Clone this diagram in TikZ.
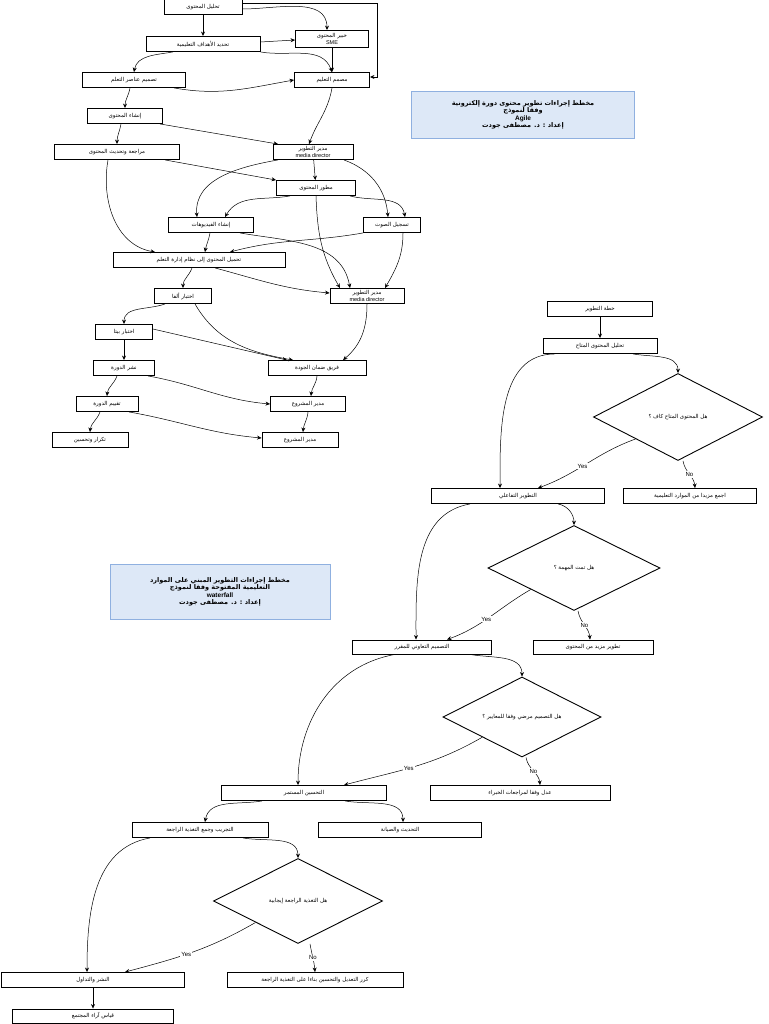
\documentclass[tikz,border=0pt]{standalone}
\usepackage{fontspec}
\setmainfont{Liberation Sans}
\newfontfamily\arfont[Script=Arabic]{DejaVu Sans}
\usetikzlibrary{shapes.geometric,arrows.meta}
\TeXXeTstate=1
\newcommand\ar[1]{{\arfont\beginR #1\endR}}
\definecolor{ttlfill}{HTML}{DDE8F7}
\definecolor{ttldraw}{HTML}{8FB0E0}
\tikzset{
  box/.style={draw, line width=0.9pt, inner sep=1pt, minimum height=15pt, align=center,
    font=\fontsize{5.5}{6.5}\selectfont},
  dia/.style={draw, diamond, line width=0.9pt, inner sep=0pt, aspect=2,
    font=\fontsize{5.5}{6.5}\selectfont},
  arr/.style={-{Stealth[length=4.5pt,width=4pt]}, line width=0.5pt},
  lbl/.style={fill=white, inner sep=1pt, font=\fontsize{6}{7}\selectfont},
  ttl/.style={draw=ttldraw, fill=ttlfill, align=center, inner sep=2pt,
    font=\fontsize{6.5}{7.5}\selectfont\bfseries}
}
\begin{document}
\begin{tikzpicture}[x=1pt,y=-1pt]
    \useasboundingbox (0,0) rectangle (768,1024);

    % Agile chart
    \node[box, minimum width=78] (a1) at (203,7) {\ar{تحليل المحتوى}};
    \node[box, minimum width=73, minimum height=17] (a2) at (332,39) {\ar{خبير المحتوى}\\SME};
    \node[box, minimum width=114] (a3) at (203,44) {\ar{تحديد الأهداف التعليمية}};
    \node[box, minimum width=103] (a4) at (134,80) {\ar{تصميم عناصر التعلم}};
    \node[box, minimum width=75] (a5) at (332,80) {\ar{مصمم التعليم}};
    \node[box, minimum width=75] (a6) at (125,116) {\ar{إنشاء المحتوى}};
    \node[box, minimum width=125] (a7) at (117,152) {\ar{مراجعة وتحديث المحتوى}};
    \node[box, minimum width=80] (a8) at (313,152) {\ar{مدير التطوير}\\media director};
    \node[box, minimum width=79] (a9) at (316,188) {\ar{مطور المحتوى}};
    \node[box, minimum width=85] (a10) at (211,225) {\ar{إنشاء الفيديوهات}};
    \node[box, minimum width=57] (a11) at (392,225) {\ar{تسجيل الصوت}};
    \node[box, minimum width=172] (a12) at (199,260) {\ar{تحميل المحتوى إلى نظام إدارة التعلم}};
    \node[box, minimum width=74] (a13) at (367,296) {\ar{مدير التطوير}\\media director};
    \node[box, minimum width=57] (a14) at (183,296) {\ar{اختبار ألفا}};
    \node[box, minimum width=57] (a15) at (124,332) {\ar{اختبار بيتا}};
    \node[box, minimum width=61] (a16) at (124,368) {\ar{نشر الدورة}};
    \node[box, minimum width=98] (a17) at (317,368) {\ar{فريق ضمان الجودة}};
    \node[box, minimum width=62] (a18) at (107,404) {\ar{تقييم الدورة}};
    \node[box, minimum width=75] (a19) at (308,404) {\ar{مدير المشروع}};
    \node[box, minimum width=76] (a20) at (90,440) {\ar{تكرار وتحسين}};
    \node[box, minimum width=76] (a21) at (300,440) {\ar{مدير المشروع}};

    \node[ttl, minimum width=223, minimum height=47] (t1) at (523,115)
      {\ar{مخطط إجراءات تطوير محتوى دورة إلكترونية}\\\ar{وفقا لنموذج}\\Agile\\\ar{إعداد : د. مصطفى جودت}};

    \draw[arr] (a1) -- (a3);
    \draw[arr] ([yshift=-2]a1.east) to[out=0,in=90] ([xshift=-5]a2.north);
    \draw[arr] ([yshift=4]a1.east) -| ([xshift=7,yshift=3]a5.east) -- ([yshift=3]a5.east);
    \draw[arr] ([yshift=2]a3.east) -- ([yshift=-1]a2.west);
    \draw[arr] (a3.south east) to[out=-10,in=110] (a5.north);
    \draw[arr] (a2) -- (a5);
    \draw[arr] ([xshift=-30]a3.south) to[out=190,in=80] (a4.north);
    \draw[arr] ([xshift=40]a4.south) to[out=-10,in=190] (a5.west);
    \draw[arr] (a5.south) to[out=-100,in=70] ([xshift=-4]a8.north);
    \draw[arr] ([xshift=-4]a4.south) to[out=-100,in=90] (a6.north);
    \draw[arr] ([xshift=-3]a6.south east) -- ([xshift=-35]a8.north);
    \draw[arr] ([xshift=-4]a6.south) to[out=-100,in=90] (a7.north);
    \draw[arr] ([xshift=48]a7.south) -- (a9.north west);
    \draw[arr] (a8) -- (a9);
    \draw[arr] ([xshift=-35]a8.south) to[out=190,in=95] ([xshift=-14]a10.north);
    \draw[arr] ([xshift=31]a8.south) to[out=-20,in=95] ([xshift=-4]a11.north);
    \draw[arr] ([xshift=-26]a9.south) to[out=190,in=60] ([xshift=14]a10.north);
    \draw[arr] ([xshift=34]a9.south) to[out=-15,in=100] ([xshift=13]a11.north);
    \draw[arr] (a9.south) to[out=-88,in=120] ([xshift=-27]a13.north);
    \draw[arr] ([xshift=29]a10.south) to[out=-10,in=100] ([xshift=-17]a13.north);
    \draw[arr] ([xshift=11]a11.south) to[out=-90,in=60] ([xshift=18]a13.north);
    \draw[arr] ([xshift=-9]a7.south) to[out=-100,in=170] ([xshift=-44]a12.north);
    \draw[arr] ([xshift=-1]a10.south) to[out=-100,in=80] ([xshift=6]a12.north);
    \draw[arr] ([xshift=-29]a11.south) to[out=190,in=15] ([xshift=31]a12.north);
    \draw[arr] ([xshift=-7]a12.south) to[out=-110,in=90] (a14.north);
    \draw[arr] ([xshift=16]a12.south) to[out=-15,in=175] ([yshift=3]a13.west);
    \draw[arr] (a13.south) to[out=-90,in=40] ([xshift=26]a17.north);
    \draw[arr] ([xshift=-18]a14.south) to[out=200,in=90] (a15.north);
    \draw[arr] ([xshift=12]a14.south) to[out=-60,in=170] ([xshift=-24]a17.north);
    \draw[arr] (a15) -- (a16);
    \draw[arr] ([yshift=3]a15.east) -- ([xshift=-30]a17.north);
    \draw[arr] ([xshift=-7]a16.south) to[out=-110,in=85] (a18.north);
    \draw[arr] ([xshift=24]a16.south) to[out=-10,in=175] (a19.west);
    \draw[arr] (a17.south) to[out=-95,in=85] ([xshift=3]a19.north);
    \draw[arr] ([xshift=-7]a18.south) to[out=-110,in=85] (a20.north);
    \draw[arr] ([xshift=22]a18.south) to[out=-10,in=175] ([yshift=2]a21.west);
    \draw[arr] (a19.south) to[out=-95,in=85] ([xshift=3]a21.north);

    % Waterfall chart
    \node[box, minimum width=105] (w1) at (600,309) {\ar{خطة التطوير}};
    \node[box, minimum width=114] (w2) at (600,346) {\ar{تحليل المحتوى المتاح}};
    \node[dia, minimum width=169, minimum height=87] (d1) at (678,417) {\ar{هل المحتوى المتاح كاف ؟}};
    \node[box, minimum width=173] (w3) at (518,496) {\ar{التطوير التفاعلي}};
    \node[box, minimum width=133] (w4) at (690,496) {\ar{اجمع مزيدا من الموارد التعليمية}};
    \node[dia, minimum width=172, minimum height=85] (d2) at (574,568) {\ar{هل تمت المهمة ؟}};
    \node[box, minimum width=139, minimum height=14] (w5) at (422,647) {\ar{التصميم التعاوني للمقرر}};
    \node[box, minimum width=120, minimum height=14] (w6) at (593,647) {\ar{تطوير مزيد من المحتوى}};
    \node[dia, minimum width=158, minimum height=80] (d3) at (522,717) {\ar{هل التصميم مرضي وفقا للمعايير ؟}};
    \node[box, minimum width=165] (w7) at (304,793) {\ar{التحسين المستمر}};
    \node[box, minimum width=180] (w8) at (520,793) {\ar{عدل وفقا لمراجعات الخبراء}};
    \node[box, minimum width=136] (w10) at (200,830) {\ar{التجريب وجمع التغذية الراجعة}};
    \node[box, minimum width=163] (w9) at (400,830) {\ar{التحديث والصيانة}};
    \node[dia, minimum width=169, minimum height=85] (d4) at (298,901) {\ar{هل التغذية الراجعة إيجابية}};
    \node[box, minimum width=183] (w11) at (93,980) {\ar{النشر والتداول}};
    \node[box, minimum width=176] (w12) at (315,980) {\ar{كرر التعديل والتحسين بناءا على التغذية الراجعة}};
    \node[box, minimum width=161, minimum height=14] (w13) at (93,1016) {\ar{قياس آراء المجتمع}};

    \node[ttl, minimum width=220, minimum height=55] (t2) at (220,592)
      {\ar{مخطط إجراءات التطوير المبني على الموارد}\\\ar{التعليمية المفتوحة وفقا لنموذج}\\waterfall\\\ar{إعداد : د. مصطفى جودت}};

    \draw[arr] (w1) -- (w2);
    \draw[arr] ([xshift=33]w2.south) to[out=-10,in=90] (d1.north);
    \draw[arr] ([xshift=-45]w2.south) to[out=180,in=90] ([xshift=-18]w3.north);
    \draw[arr] (d1.south west) to[out=200,in=20] node[lbl, pos=.55] {Yes} ([xshift=20]w3.north);
    \draw[arr] ([xshift=5]d1.south) to[out=-80,in=95] node[lbl] {No} ([xshift=5]w4.north);
    \draw[arr] ([xshift=40]w3.south) to[out=-10,in=90] (d2.north);
    \draw[arr] ([xshift=-48]w3.south) to[out=190,in=90] ([xshift=-6]w5.north);
    \draw[arr] (d2.south west) to[out=210,in=20] node[lbl, pos=.55] {Yes} ([xshift=25]w5.north);
    \draw[arr] ([xshift=4]d2.south) to[out=-80,in=95] node[lbl] {No} ([xshift=-3]w6.north);
    \draw[arr] ([xshift=48]w5.south) to[out=-10,in=90] (d3.north);
    \draw[arr] ([xshift=-27]w5.south) to[out=190,in=90] ([xshift=-6]w7.north);
    \draw[arr] (d3.south west) to[out=210,in=15] node[lbl, pos=.55] {Yes} ([xshift=40]w7.north);
    \draw[arr] ([xshift=4]d3.south) to[out=-80,in=95] node[lbl] {No} ([xshift=20]w8.north);
    \draw[arr] ([xshift=41]w7.south) to[out=-10,in=90] ([xshift=3]w9.north);
    \draw[arr] ([xshift=-42]w7.south) to[out=190,in=80] ([xshift=5]w10.north);
    \draw[arr] ([xshift=43]w10.south) to[out=-10,in=90] (d4.north);
    \draw[arr] ([xshift=-50]w10.south) to[out=190,in=90] ([xshift=-6]w11.north);
    \draw[arr] (d4.south west) to[out=210,in=15] node[lbl, pos=.55] {Yes} ([xshift=32]w11.north);
    \draw[arr] ([xshift=12]d4.south) to[out=-80,in=95] node[lbl] {No} (w12.north);
    \draw[arr] (w11) -- (w13);
\end{tikzpicture}
\end{document}
